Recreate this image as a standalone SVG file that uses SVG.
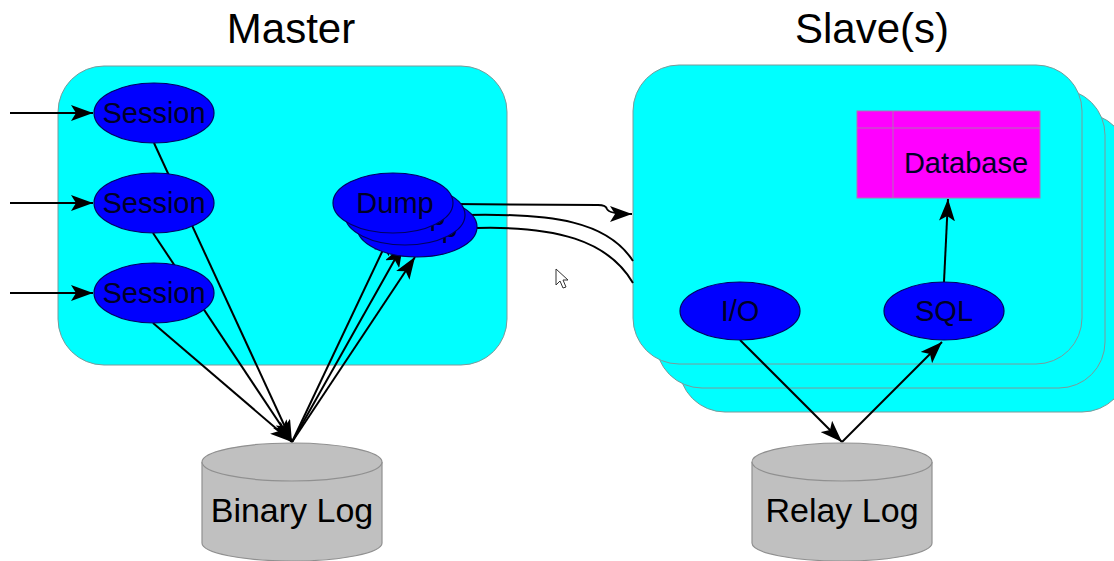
<svg xmlns="http://www.w3.org/2000/svg" width="1114" height="561" viewBox="0 0 1114 561">
  <style>
    .box { fill: #00ffff; stroke: #7a9a9a; stroke-width: 1; }
    .proc { fill: #0000ff; stroke: #000060; stroke-width: 1.2; }
    .proc-text { font-family: "Liberation Sans", "DejaVu Sans", sans-serif; font-size: 29px; fill: #000028; text-anchor: middle; }
    .title { font-family: "Liberation Sans", "DejaVu Sans", sans-serif; font-size: 42px; fill: #000; text-anchor: middle; }
    .log { fill: #c0c0c0; stroke: #909090; stroke-width: 1.2; }
    .log-text { font-family: "Liberation Sans", "DejaVu Sans", sans-serif; font-size: 34px; fill: #000; text-anchor: middle; }
    .edge { fill: none; stroke: #000; stroke-width: 2; }
  </style>
  <defs>
    <marker id="arrow" viewBox="0 0 22 16" refX="22" refY="8" markerWidth="22" markerHeight="16" markerUnits="userSpaceOnUse" orient="auto">
      <path d="M0,0 L22,8 L0,16 L5,8 Z" fill="#000"/>
    </marker>
  </defs>

  <rect width="1114" height="561" fill="#fff"/>

  <!-- headings -->
  <g id="titles">
    <text class="title" x="291" y="43">Master</text>
    <text class="title" x="872" y="43">Slave(s)</text>
  </g>

  <!-- master container -->
  <g id="master">
    <rect class="box" x="58" y="66" width="449" height="299" rx="46" ry="46"/>
  </g>

  <!-- stacked slave containers, back to front -->
  <g id="slaves">
    <rect class="box" x="679" y="113" width="449" height="299" rx="46" ry="46"/>
    <rect class="box" x="656" y="89" width="449" height="299" rx="46" ry="46"/>
    <rect class="box" x="633" y="65" width="449" height="299" rx="46" ry="46"/>
  </g>

  <!-- connectors -->
  <g id="connectors">
    <line class="edge" x1="10" y1="113" x2="93" y2="113" marker-end="url(#arrow)"/>
    <line class="edge" x1="10" y1="203" x2="93" y2="203" marker-end="url(#arrow)"/>
    <line class="edge" x1="10" y1="293" x2="93" y2="293" marker-end="url(#arrow)"/>

    <line class="edge" x1="154" y1="143" x2="292" y2="442" marker-end="url(#arrow)"/>
    <line class="edge" x1="153" y1="233" x2="292" y2="442" marker-end="url(#arrow)"/>
    <line class="edge" x1="153" y1="323" x2="292" y2="442" marker-end="url(#arrow)"/>

    <line class="edge" x1="292" y1="442" x2="391" y2="233" marker-end="url(#arrow)"/>
    <line class="edge" x1="292" y1="442" x2="403" y2="245" marker-end="url(#arrow)"/>
    <line class="edge" x1="292" y1="442" x2="415" y2="257" marker-end="url(#arrow)"/>

    <path class="edge" d="M453,204 L598,205 Q606,205 607,209 Q609,214 632,214" marker-end="url(#arrow)"/>
    <path class="edge" d="M465,215 C555,213 608,222 633,261"/>
    <path class="edge" d="M477,228 C555,226 608,240 633,283"/>

    <line class="edge" x1="944" y1="282" x2="948" y2="199" marker-end="url(#arrow)"/>
    <line class="edge" x1="740" y1="340" x2="842" y2="442" marker-end="url(#arrow)"/>
    <line class="edge" x1="842" y1="442" x2="942" y2="342" marker-end="url(#arrow)"/>
  </g>

  <!-- client sessions -->
  <g id="session-1">
    <ellipse class="proc" cx="154" cy="113" rx="60" ry="30"/>
    <text class="proc-text" x="154" y="123">Session</text>
  </g>
  <g id="session-2">
    <ellipse class="proc" cx="154" cy="203" rx="60" ry="30"/>
    <text class="proc-text" x="154" y="213">Session</text>
  </g>
  <g id="session-3">
    <ellipse class="proc" cx="154" cy="293" rx="60" ry="30"/>
    <text class="proc-text" x="154" y="303">Session</text>
  </g>

  <!-- dump threads, back to front -->
  <g id="dump-3">
    <ellipse class="proc" cx="417" cy="227" rx="60" ry="30"/>
    <text class="proc-text" x="419" y="237">Dump</text>
  </g>
  <g id="dump-2">
    <ellipse class="proc" cx="405" cy="215" rx="60" ry="30"/>
    <text class="proc-text" x="407" y="225">Dump</text>
  </g>
  <g id="dump-1">
    <ellipse class="proc" cx="393" cy="203" rx="60" ry="30"/>
    <text class="proc-text" x="395" y="213">Dump</text>
  </g>

  <!-- slave threads -->
  <g id="io-thread">
    <ellipse class="proc" cx="740" cy="311" rx="60" ry="29"/>
    <text class="proc-text" x="740" y="321">I/O</text>
  </g>
  <g id="sql-thread">
    <ellipse class="proc" cx="944" cy="311" rx="60" ry="29"/>
    <text class="proc-text" x="944" y="321">SQL</text>
  </g>

  <!-- database table -->
  <g id="database">
    <rect x="857" y="111" width="183" height="87" fill="#ff00ff" stroke="#b070b0" stroke-width="1"/>
    <line x1="857" y1="128" x2="1040" y2="128" stroke="#b070b0" stroke-width="1"/>
    <line x1="893" y1="111" x2="893" y2="198" stroke="#b070b0" stroke-width="1"/>
    <text class="proc-text" x="966" y="173" font-size="30">Database</text>
  </g>

  <!-- log files -->
  <g id="binary-log">
    <path class="log" d="M202,462 A90,19 0 0 1 382,462 V543 A90,18 0 0 1 202,543 Z"/>
    <path class="log" fill="none" d="M202,462 A90,19 0 0 0 382,462"/>
    <text class="log-text" x="292" y="522">Binary Log</text>
  </g>
  <g id="relay-log">
    <path class="log" d="M752,462 A90,19 0 0 1 932,462 V543 A90,18 0 0 1 752,543 Z"/>
    <path class="log" fill="none" d="M752,462 A90,19 0 0 0 932,462"/>
    <text class="log-text" x="842" y="522">Relay Log</text>
  </g>

  <!-- pointer -->
  <g id="pointer">
    <path d="M556,269 L556,285 L560,281 L563,288 L566,287 L563,280 L568,280 Z" fill="#fff" stroke="#333" stroke-width="1"/>
  </g>
</svg>
